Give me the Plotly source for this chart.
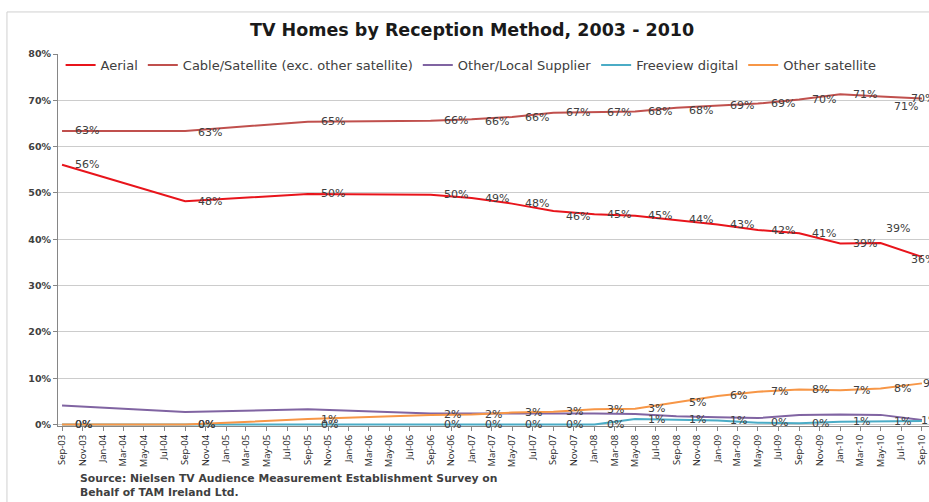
import plotly.graph_objects as go

# ---- data ----
dates = ["2003-09-01", "2004-09-01", "2005-09-01", "2006-09-01",
         "2007-01-01", "2007-05-01", "2007-09-01",
         "2008-01-01", "2008-05-01", "2008-09-01",
         "2009-01-01", "2009-05-01", "2009-09-01",
         "2010-01-01", "2010-05-01", "2010-09-01"]

aerial = [56.1, 48.2, 49.8, 49.6, 48.9, 47.7, 46.1, 45.4, 45.1, 44.2, 43.2, 42.0, 41.3, 39.1, 39.2, 36.2]
cable_sat = [63.4, 63.4, 65.4, 65.6, 65.9, 66.4, 67.3, 67.4, 67.6, 68.4, 68.9, 69.3, 70.2, 71.3, 70.8, 70.4]
other_local = [4.1, 2.7, 3.3, 2.4, 2.4, 2.4, 2.5, 2.4, 2.3, 1.8, 1.6, 1.4, 2.1, 2.2, 2.1, 1.0]
freeview = [0.0, 0.0, 0.0, 0.0, 0.0, 0.0, 0.0, 0.0, 1.2, 1.1, 0.9, 0.4, 0.3, 0.6, 0.7, 0.8]
other_sat = [0.0, 0.0, 1.2, 2.1, 2.2, 2.6, 2.8, 3.3, 3.4, 4.8, 6.2, 7.1, 7.6, 7.4, 7.8, 8.9]

series_names = ["Aerial", "Cable/Satellite (exc. other satellite)", "Other/Local Supplier",
                "Freeview digital", "Other satellite"]
series_values = [aerial, cable_sat, other_local, freeview, other_sat]
y_ticks = [0, 10, 20, 30, 40, 50, 60, 70, 80]

title_text = "TV Homes by Reception Method, 2003 - 2010"
source_lines = ["Source: Nielsen TV Audience Measurement Establishment Survey on",
                "Behalf of TAM Ireland Ltd."]

# ---- styles ----
colors = ["#e8141b", "#c0504d", "#8064a2", "#4bacc6", "#f79646"]
labelled = [True, True, False, True, True]
# per-label pixel nudges (series index, point index) -> (xshift, yshift)
label_nudge = {
    (0, 6): (0, -5), (0, 14): (-8, 15), (0, 15): (-24, -3),
    (1, 1): (0, -2), (1, 4): (0, -2), (1, 9): (0, -3), (1, 14): (0, -10), (1, 15): (-24, 0),
    (3, 15): (-14, 0), (4, 15): (-12, 0),
}
BASE_XSHIFT = 11
WIDE = "DejaVu Sans"
NARROW = "Open Sans"

fig = go.Figure()
for name, vals, col in zip(series_names, series_values, colors):
    fig.add_trace(go.Scatter(x=dates, y=vals, name=name, mode="lines",
                             line=dict(color=col, width=2), hoverinfo="skip"))

annotations = []
for si, (vals, lab) in enumerate(zip(series_values, labelled)):
    if not lab:
        continue
    for pi, (d, v) in enumerate(zip(dates, vals)):
        dx, dy = label_nudge.get((si, pi), (0, 0))
        annotations.append(dict(x=d, y=v, xref="x", yref="y", text=f"{round(v)}%",
                                showarrow=False, xanchor="left", yanchor="middle",
                                xshift=BASE_XSHIFT + dx, yshift=dy,
                                font=dict(family=WIDE, size=11, color="#404040")))

annotations.append(dict(x=0.475, y=1.064, xref="paper", yref="paper", text=f"<b>{title_text}</b>",
                        showarrow=False, xanchor="center", yanchor="middle",
                        font=dict(family=WIDE, size=17.5, color="#1a1a1a")))
for i, line in enumerate(source_lines):
    annotations.append(dict(x=0.023, y=-0.14 - 0.038 * i, xref="paper", yref="paper",
                            text=f"<b>{line}</b>", showarrow=False, xanchor="left", yanchor="middle",
                            font=dict(family=WIDE, size=10.8, color="#404040")))

fig.update_layout(
    width=929, height=502,
    margin=dict(l=58, r=0, t=54, b=76),
    paper_bgcolor="white", plot_bgcolor="white",
    showlegend=True,
    legend=dict(orientation="h", x=0.003, y=0.97, xanchor="left", yanchor="middle",
                font=dict(family=WIDE, size=13, color="#404040"), bgcolor="rgba(0,0,0,0)",
                itemwidth=30),
    annotations=annotations,
    shapes=[dict(type="rect", xref="paper", yref="paper", x0=-0.0586, x1=1.05, y0=-0.3, y1=1.113,
                 line=dict(color="#d0d0d0", width=1), layer="below")],
    xaxis=dict(type="date", range=["2003-08-20", "2010-09-22"], tick0="2003-09-01", dtick="M2",
               tickformat="%b-%y", tickangle=-90, ticks="outside", ticklen=4, tickcolor="#868686",
               showline=True, linecolor="#868686", linewidth=1, showgrid=False, zeroline=False,
               layer="below traces",
               tickfont=dict(family=NARROW, size=9.5, color="#202020")),
    yaxis=dict(range=[-0.3, 80], tickvals=y_ticks, ticktext=[f"<b>{t}%</b>" for t in y_ticks],
               ticks="outside", ticklen=4, tickcolor="#868686",
               showline=True, linecolor="#868686", linewidth=1,
               showgrid=True, gridcolor="#cccccc", gridwidth=1, zeroline=False,
               layer="below traces",
               tickfont=dict(family=WIDE, size=9.5, color="#404040")),
)

fig.write_html("out.html")
